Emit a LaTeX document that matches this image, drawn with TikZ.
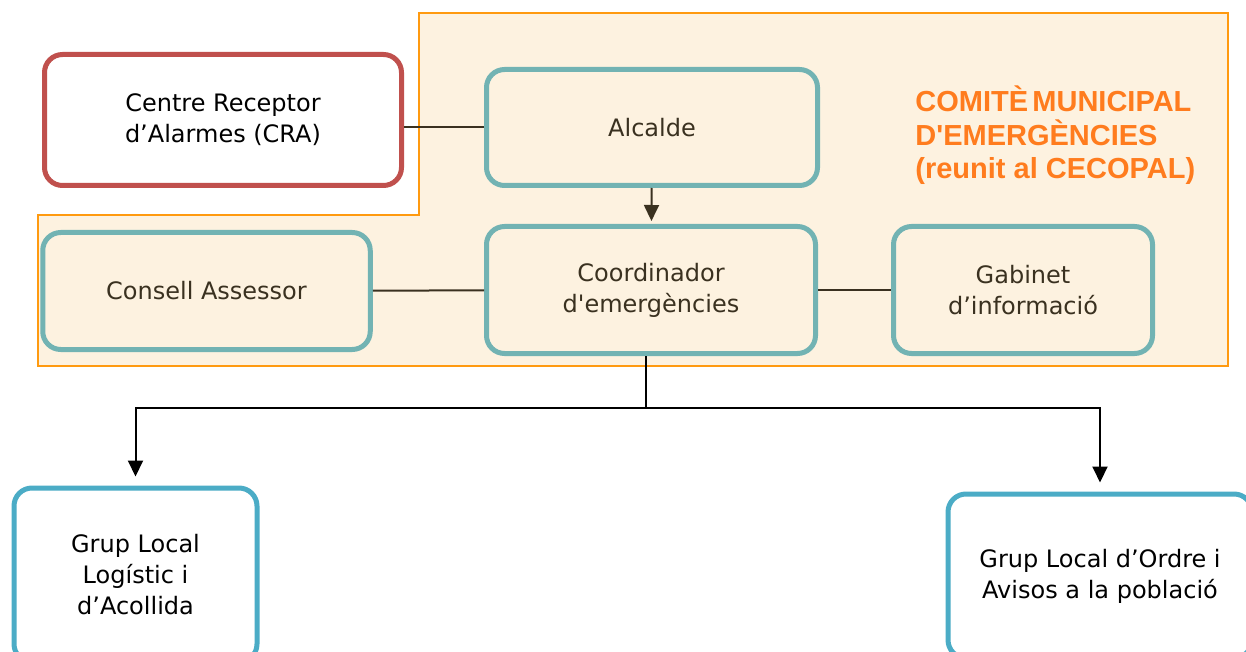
\documentclass[tikz,border=0pt]{standalone}
\usepackage{fontspec}
\setmainfont{DejaVu Sans}
\newfontfamily\headfont{Liberation Sans}
\usepackage{tikz}
\usetikzlibrary{arrows.meta,positioning}
\definecolor{cream}{HTML}{FDF2E0}
\definecolor{edgeorange}{HTML}{FF9A10}
\definecolor{headorange}{HTML}{FF7C1E}
\definecolor{tealedge}{HTML}{72B3B3}
\definecolor{rededge}{HTML}{C0504D}
\definecolor{blueedge}{HTML}{4BACC6}
\definecolor{darkline}{HTML}{3A3120}
\tikzset{box/.style={draw, rounded corners=9pt, line width=2.5pt, inner sep=0pt, align=center, font=\fontsize{12}{15.5}\selectfont}}

\begin{document}
\begin{tikzpicture}[x=0.5pt, y=-0.5pt, >={Triangle[width=7.5pt,length=8pt]}]
		\useasboundingbox (0,0) rectangle (1246,652);
		\filldraw[fill=cream, draw=edgeorange, line width=1pt](419,13) -- (1228,13) -- (1228,366) -- (38,366) -- (38,215) -- (419,215) -- cycle;
		\node(cra)[box, draw=rededge, fill=white, minimum width=178.5pt, minimum height=65.5pt] at (223,120){Centre Receptor\\d’Alarmes (CRA)};
		\node(alcalde)[box, draw=tealedge, fill=cream, text=darkline, minimum width=165.5pt, minimum height=58pt] at (652,127.5){Alcalde};
		\node(coord)[box, draw=tealedge, fill=cream, text=darkline, minimum width=164.5pt, minimum height=63.5pt] at (651,290){Coordinador\\d\textquotesingle emergències};
		\node(consell)[box, draw=tealedge, fill=cream, text=darkline, minimum width=163.75pt, minimum height=58.5pt] at (206.5,291){Consell Assessor};
		\node(gabinet)[box, draw=tealedge, fill=cream, text=darkline, minimum width=129.5pt, minimum height=63.5pt] at (1023,290){Gabinet\\d’informació};
		\node(logistic)[box, draw=blueedge, fill=white, minimum width=121.5pt, minimum height=87pt] at (135.5,575){Grup Local\\Logístic i\\d’Acollida};
		\node(ordre)[box, draw=blueedge, fill=white, minimum width=152pt, minimum height=82pt] at (1100,576){Grup Local d’Ordre i\\Avisos a la població};
		% base = baseline of the last line
		\node(comite)[anchor=base west, inner sep=0pt, align=left, text=headorange, font=\headfont\bfseries\fontsize{14.5}{16.75}\selectfont] at (915,179){\makebox[138pt]{COMITÈ\hfill MUNICIPAL}\\D\textquotesingle EMERGÈNCIES\\(reunit al CECOPAL)};
		\coordinate(fork) at (646,408);
		\draw[darkline, line width=1pt](alcalde.west) -- (alcalde.west -| cra.east);
		\draw[darkline, line width=1pt, ->, shorten >=1.5pt](alcalde) -- (coord);
		\draw[darkline, line width=1pt](consell) -- (coord);
		\draw[darkline, line width=1pt](coord) -- (gabinet);
		\draw[line width=1pt](coord.south -| fork) -- (fork);
		\draw[line width=1pt, ->, shorten >=4.5pt](fork) -| (logistic.north);
		\draw[line width=1pt, ->, shorten >=4.5pt](fork) -| (ordre.north);
	\end{tikzpicture}
\end{document}
